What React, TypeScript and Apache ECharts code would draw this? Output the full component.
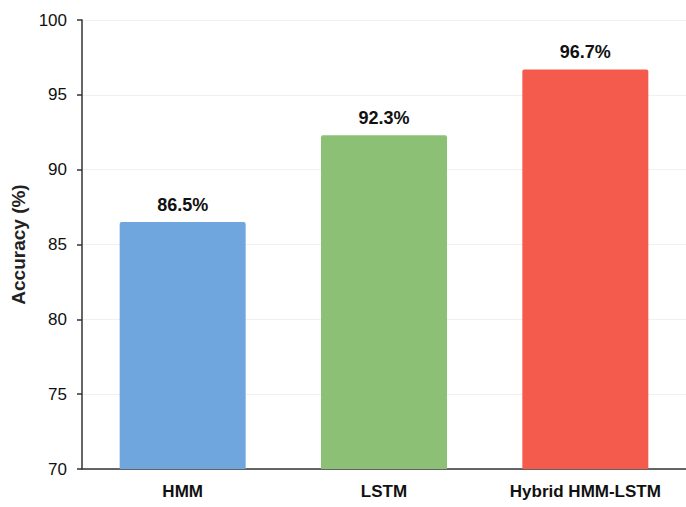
import React, { useEffect, useRef } from "react";
import * as echarts from "echarts";

const categories = ["HMM", "LSTM", "Hybrid HMM-LSTM"];
const accuracy = [86.5, 92.3, 96.7];
const barColors = ["#6fa6de", "#8cc175", "#f45b4c"];
const yTicks = { min: 70, max: 100, interval: 5 };

const FONT = "'Liberation Sans', Arial, sans-serif";

export default function App() {
  const ref = useRef<HTMLDivElement>(null);
  useEffect(() => {
    if (!ref.current) return;
    const chart = echarts.init(ref.current, undefined, { renderer: "svg" });
    chart.setOption({
      animation: false,
      backgroundColor: "#ffffff",
      grid: { left: 82, right: -6, top: 20, bottom: 38 },
      xAxis: {
        type: "category",
        data: categories,
        axisLine: { lineStyle: { color: "#333333", width: 1.5 } },
        axisTick: { show: false },
        axisLabel: {
          interval: 0,
          hideOverlap: false,
          margin: 14,
          fontFamily: FONT,
          fontWeight: "bold",
          fontSize: 17,
          color: "#111111",
        },
      },
      yAxis: {
        type: "value",
        min: yTicks.min,
        max: yTicks.max,
        interval: yTicks.interval,
        name: "Accuracy (%)",
        nameLocation: "middle",
        nameGap: 47,
        nameRotate: 90,
        nameTextStyle: {
          fontFamily: FONT,
          fontWeight: "bold",
          fontSize: 19,
          color: "#222222",
        },
        axisLine: { show: true, lineStyle: { color: "#333333", width: 1.5 } },
        axisTick: { show: true, length: 5, lineStyle: { color: "#333333", width: 1.5 } },
        axisLabel: {
          margin: 15,
          fontFamily: FONT,
          fontSize: 17,
          color: "#111111",
        },
        splitLine: { show: true, lineStyle: { color: "#f0f0f0", width: 1 } },
      },
      series: [
        {
          type: "bar",
          barWidth: 126,
          data: accuracy.map((v, i) => ({
            value: v,
            itemStyle: { color: barColors[i], borderRadius: [2, 2, 0, 0] },
          })),
          labelLayout: { hideOverlap: false },
          label: {
            show: true,
            position: "top",
            distance: 8,
            formatter: (p: any) => `${p.value}%`,
            fontFamily: FONT,
            fontWeight: "bold",
            fontSize: 18,
            color: "#111111",
          },
        },
      ],
    });
    return () => chart.dispose();
  }, []);
  return <div ref={ref} style={{ width: 686, height: 507, position: "absolute", left: 0, top: 0 }} />;
}
